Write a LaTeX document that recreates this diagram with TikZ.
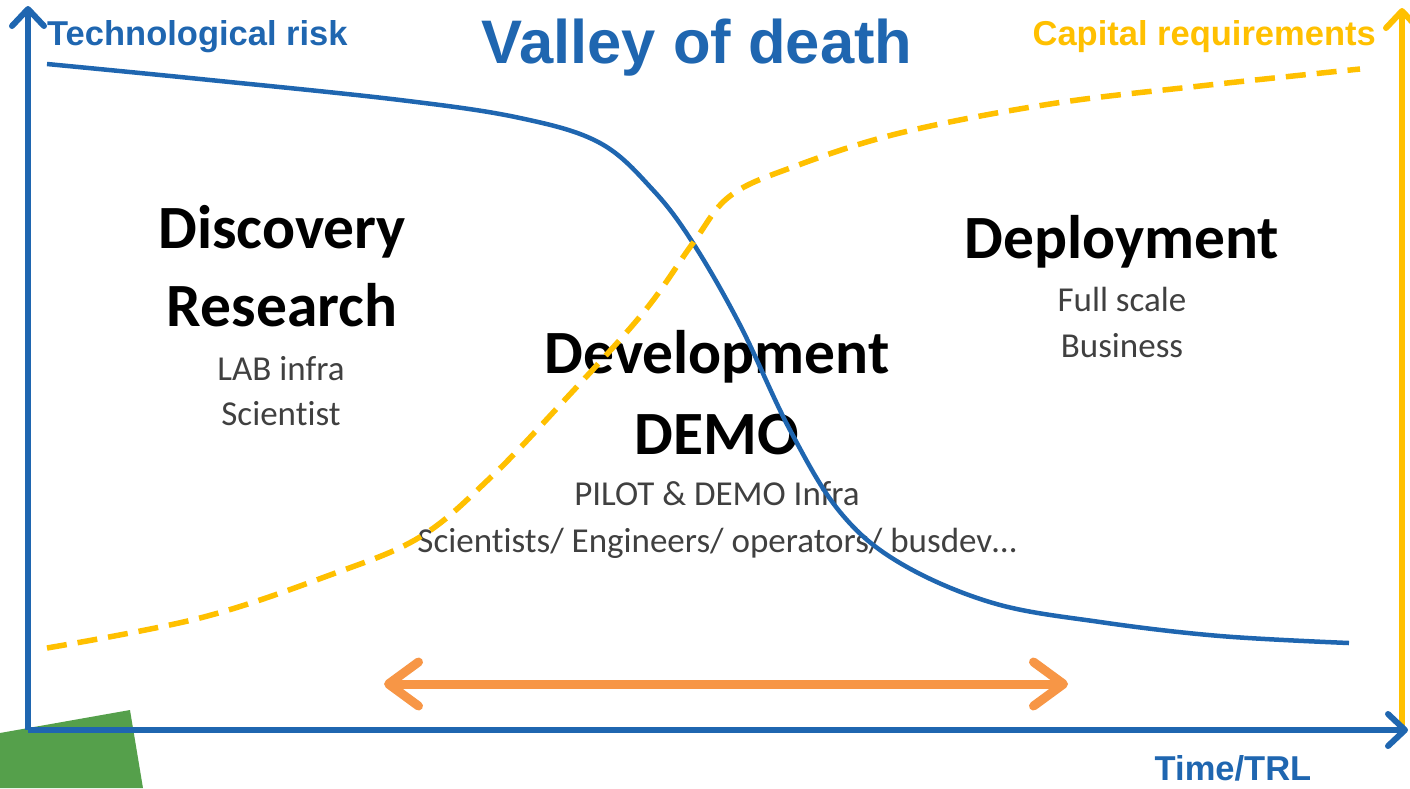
\documentclass[tikz,border=0pt]{standalone}
\usepackage{fontspec}
\setmainfont{Carlito}[Ligatures=NoCommon]
\newfontfamily\arialfont{Liberation Sans}
\usetikzlibrary{arrows.meta}
\definecolor{riskblue}{HTML}{1F66B0}
\definecolor{capyellow}{HTML}{FFC000}
\definecolor{barorange}{HTML}{F79646}
\definecolor{leafgreen}{HTML}{55A04B}
\definecolor{subgray}{HTML}{404040}

\begin{document}
\begin{tikzpicture}[x=1pt,y=-1pt,
    axislbl/.style={font=\arialfont\bfseries\fontsize{34.5}{40}\selectfont,inner sep=0pt},
    phase/.style={font=\bfseries\fontsize{61.5}{74}\selectfont,anchor=base,inner sep=0pt},
    detail/.style={font=\fontsize{35}{40}\selectfont,text=subgray,anchor=base,inner sep=0pt},
    axisarrow/.style={line width=6pt,-{Straight Barb[length=17pt,width=32pt,round]}},
    wide/.tip={Straight Barb[length=30pt,width=44pt,round]}]
            \useasboundingbox (0,0) rectangle (1410,788);
            \fill[leafgreen] (0,733)--(130,710)--(143,788)--(0,788)--cycle;

            \coordinate (origin) at (28,730);
            \coordinate (ytop) at (28,6);
            \coordinate (xend) at (1408,730);
            \coordinate (capbase) at (1402,730);
            \coordinate (captop) at (1402,8);
            \coordinate (spanL) at (384,684);
            \coordinate (spanR) at (1068,684);

            \node[axislbl,text=riskblue,anchor=base] (title) at (697,63) {\fontsize{61.5}{70}\selectfont Valley of death};
            \node[axislbl,text=riskblue,anchor=base west] (risk) at (47,45) {Technological risk};
            \node[axislbl,text=capyellow,anchor=base east] (capital) at (1376,45) {Capital requirements};
            \node[axislbl,text=riskblue,anchor=base] (time) at (1233,780) {Time/TRL};

            \node[phase] (discovery) at (282,248) {Discovery};
            \node[phase] (research) at (282,326) {Research};
            \node[detail] (labinfra) at (281,380) {LAB infra};
            \node[detail] (scientist) at (281,425) {Scientist};
            \node[phase] (development) at (717,373) {Development};
            \node[phase] (demo) at (717,454) {DEMO};
            \node[detail] (pilot) at (717,505) {PILOT \& DEMO Infra};
            \node[detail] (staff) at (717,552) {Scientists/ Engineers/ operators/ busdev…};
            \node[phase] (deployment) at (1122,258) {Deployment};
            \node[detail] (fullscale) at (1122,311) {Full scale};
            \node[detail] (business) at (1122,357) {Business};

            \draw[riskblue,line width=4.5pt,smooth,tension=0.6] plot coordinates {(47,64) (200,79) (400,100) (520,118) (600,143) (653,190) (693,243) (740,325) (790,430) (840,512) (900,563) (993,603) (1100,622) (1220,636) (1349,643)};
            \draw[capyellow,line width=5.5pt,dash pattern=on 20pt off 11pt,smooth,tension=0.6] plot coordinates {(47,648) (200,618) (330,575) (420,537) (490,478) (560,405) (643,313) (693,243) (730,196) (793,167) (900,133) (1050,104) (1200,86) (1360,69)};

            \draw[barorange,line width=9pt,{wide}-{wide}] (spanL)--(spanR);

            \draw[axisarrow,capyellow] (capbase)--(captop);
            \draw[axisarrow,riskblue] (origin)--(ytop);
            \draw[axisarrow,riskblue] (origin)--(xend);
        \end{tikzpicture}
\end{document}
